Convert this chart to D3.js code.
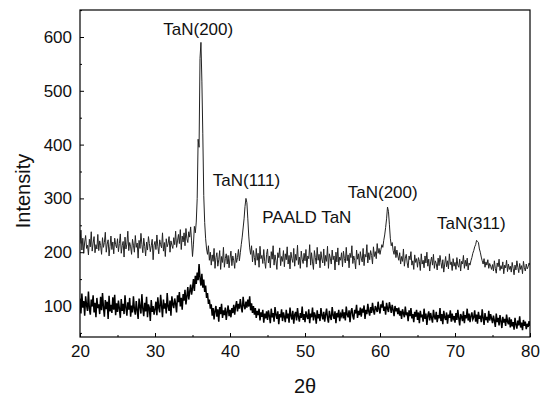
<!DOCTYPE html>
<html>
<head>
<meta charset="utf-8">
<script src="https://cdnjs.cloudflare.com/ajax/libs/d3/7.8.5/d3.min.js"></script>
<style>
	body { margin: 0; background: #fff; }
	text { font-family: Arial, "Liberation Sans", Helvetica, sans-serif; fill: #111; }
</style>
</head>
<body>
<script>

// angle grid, 20 to 80 deg in steps of 0.125
var twoTheta = d3.range(0, 481).map(function(i) { return 20 + i * 0.125; });

// upper trace (PAALD TaN film), one row = 2.5 deg
var filmCounts = [
	216, 241, 204, 226, 198, 219, 231, 207, 213, 195, 224, 210, 238, 202, 217, 229, 199, 214, 206, 233,
	203, 221, 212, 196, 227, 209, 218, 237, 200, 215, 223, 193, 211, 230, 205, 219, 197, 226, 214, 208,
	225, 201, 216, 234, 198, 212, 220, 191, 228, 206, 215, 239, 203, 218, 210, 196, 224, 213, 200, 231,
	209, 217, 189, 222, 207, 235, 214, 199, 226, 211, 193, 219, 204, 229, 216, 201, 212, 224, 186, 213,
	220, 205, 232, 211, 197, 223, 214, 208, 236, 202, 218, 192, 225, 210, 216, 229, 200, 221, 213, 207,
	227, 214, 239, 209, 221, 233, 216, 242, 205, 230, 219, 236, 212, 244, 225, 218, 238, 228, 247, 221,
	192, 215, 248, 236, 256, 300, 410, 395, 560, 590, 518, 420, 305, 255, 225, 206, 196, 212, 185, 200,
	176, 195, 183, 207, 170, 190, 199, 174, 186, 203, 168, 192, 181, 209, 172, 188, 197, 178, 194, 171,
	189, 202, 175, 193, 184, 170, 198, 181, 190, 205, 184, 199, 214, 228, 245, 262, 285, 300, 292, 262,
	230, 208, 196, 212, 182, 203, 190, 176, 207, 185, 198, 172, 211, 188, 194, 179, 205, 183, 170, 196,
	206, 180, 193, 171, 201, 187, 212, 176, 195, 184, 168, 199, 190, 208, 175, 192, 183, 203, 173, 197,
	186, 210, 178, 194, 169, 200, 188, 181, 207, 174, 196, 185, 213, 177, 191, 170, 202, 187, 179, 198,
	184, 205, 172, 193, 188, 214, 176, 199, 182, 168, 203, 190, 178, 209, 185, 196, 171, 201, 187, 180,
	206, 175, 194, 183, 211, 170, 197, 189, 178, 204, 186, 193, 167, 200, 182, 208, 176, 191, 185, 199,
	173, 202, 188, 180, 209, 184, 195, 171, 198, 190, 212, 179, 193, 185, 169, 204, 187, 197, 176, 201,
	189, 182, 207, 175, 196, 191, 214, 180, 199, 186, 203, 194, 178, 210, 192, 201, 188, 216, 198, 207,
	196, 205, 214, 209, 222, 232, 246, 262, 284, 276, 252, 226, 212, 218, 203, 196, 211, 190, 204, 193,
	185, 199, 178, 192, 183, 206, 174, 189, 196, 180, 171, 193, 186, 201, 176, 184, 168, 195, 181, 188,
	172, 190, 183, 166, 197, 178, 185, 171, 193, 180, 200, 174, 187, 165, 182, 191, 176, 196, 170, 184,
	179, 167, 189, 175, 194, 181, 170, 186, 163, 178, 192, 173, 184, 169, 197, 177, 182, 166, 188, 174,
	181, 168, 190, 176, 172, 187, 165, 183, 178, 194, 170, 185, 174, 189, 167, 180, 176, 184, 190, 198,
	203, 210, 214, 222, 220, 218, 206, 200, 191, 184, 178, 188, 172, 182, 176, 186, 170, 179, 174, 168,
	177, 165, 184, 170, 161, 180, 173, 187, 166, 175, 169, 182, 160, 176, 171, 185, 164, 178, 168, 174,
	163, 181, 170, 158, 176, 167, 184, 172, 162, 179, 168, 175, 160, 183, 171, 165, 178, 169, 173, 180,
	176
];

// lower trace
var lowerCounts = [
	114, 86, 123, 97, 109, 82, 118, 101, 91, 127, 95, 84, 112, 99, 120, 88, 106, 79, 115, 96,
	103, 85, 117, 92, 124, 98, 80, 111, 94, 108, 76, 119, 90, 102, 87, 116, 93, 121, 83, 105,
	89, 110, 95, 78, 113, 91, 104, 85, 120, 97, 82, 107, 93, 115, 80, 101, 88, 118, 94, 84,
	109, 92, 76, 114, 99, 86, 122, 95, 81, 106, 90, 117, 79, 103, 96, 72, 111, 89, 100, 84,
	94, 108, 83, 116, 97, 88, 121, 101, 79, 112, 95, 105, 86, 124, 99, 91, 110, 82, 118, 103,
	96, 114, 104, 88, 120, 107, 126, 99, 115, 93, 122, 110, 130, 103, 118, 135, 112, 127, 140, 121,
	133, 150, 128, 156, 141, 162, 148, 178, 152, 138, 160, 134, 149, 126, 138, 115, 124, 104, 112, 95,
	103, 82, 96, 75, 91, 100, 80, 94, 71, 98, 85, 104, 78, 92, 83, 97, 74, 89, 101, 81,
	93, 79, 96, 87, 102, 84, 99, 109, 90, 104, 95, 113, 98, 88, 117, 101, 94, 108, 97, 112,
	99, 118, 92, 105, 87, 100, 84, 96, 78, 91, 83, 95, 73, 88, 80, 93, 69, 86, 77, 90,
	74, 92, 81, 68, 95, 79, 87, 71, 98, 84, 76, 90, 66, 85, 79, 94, 72, 88, 80, 70,
	93, 77, 86, 69, 97, 82, 75, 91, 67, 84, 89, 73, 96, 80, 71, 87, 78, 99, 74, 85,
	70, 90, 81, 76, 94, 68, 86, 79, 97, 73, 88, 82, 67, 92, 77, 85, 72, 96, 83, 75,
	89, 71, 84, 95, 78, 69, 91, 80, 74, 98, 83, 76, 90, 68, 87, 79, 93, 72, 85, 81,
	94, 77, 88, 73, 99, 84, 79, 92, 70, 89, 96, 81, 75, 93, 86, 102, 78, 91, 83, 97,
	80, 95, 88, 101, 76, 93, 85, 104, 90, 82, 98, 87, 106, 92, 84, 100, 95, 89, 108, 94,
	86, 103, 97, 110, 91, 99, 84, 106, 95, 89, 107, 98, 87, 102, 93, 81, 100, 90, 96, 85,
	97, 82, 91, 76, 94, 86, 79, 99, 83, 88, 72, 92, 81, 96, 77, 85, 70, 89, 80, 93,
	74, 88, 68, 91, 79, 84, 71, 95, 76, 86, 65, 82, 90, 73, 87, 78, 69, 93, 80, 75,
	89, 70, 83, 77, 96, 72, 85, 66, 91, 79, 74, 88, 67, 84, 78, 92, 71, 86, 76, 81,
	69, 87, 74, 93, 78, 64, 85, 80, 72, 90, 68, 83, 77, 95, 73, 86, 70, 81, 88, 75,
	79, 92, 71, 84, 67, 89, 76, 82, 70, 94, 78, 65, 87, 74, 80, 69, 91, 73, 85, 77,
	68, 82, 73, 61, 86, 70, 78, 64, 83, 72, 59, 80, 69, 76, 63, 84, 71, 66, 79, 60,
	75, 62, 70, 56, 78, 66, 58, 73, 64, 81, 60, 69, 55, 74, 63, 71, 57, 67, 61, 72,
	63
];

// tick values
var xTicks = [20, 30, 40, 50, 60, 70, 80];
var xMinor = [25, 35, 45, 55, 65, 75];
var yTicks = [100, 200, 300, 400, 500, 600];
var yMinor = [50, 150, 250, 350, 450, 550, 650];

// peak labels: left edge (2theta) and baseline (intensity)
var peakLabels = ["TaN(200)", "TaN(111)", "PAALD TaN", "TaN(200)", "TaN(311)"];
var labelAngles = [31.1, 37.7, 44.3, 55.7, 67.6];
var labelLevels = [604, 323, 254, 301, 243];

var svg = d3.select("body").append("svg")
	.attr("width", 550)
	.attr("height", 397);

var dims = {
	left: 80,
	right: 530,
	top: 10,
	bottom: 337
};

var x = d3.scaleLinear().domain([20, 80]).range([dims.left, dims.right]);
var y = d3.scaleLinear().domain([100, 600]).range([306, 37]);

svg.append("clipPath").attr("id", "plot-clip")
	.append("rect")
	.attr("x", dims.left).attr("y", dims.top)
	.attr("width", dims.right - dims.left)
	.attr("height", dims.bottom - dims.top);

var line = d3.line()
	.x(function(d) { return x(d[0]); })
	.y(function(d) { return y(d[1]); });

var lowerData = twoTheta.map(function(t, i) { return [t, lowerCounts[i]]; });
var filmData = twoTheta.map(function(t, i) { return [t, filmCounts[i]]; });

svg.append("path")
	.datum(lowerData)
	.attr("clip-path", "url(#plot-clip)")
	.attr("d", line)
	.attr("fill", "none")
	.attr("stroke", "#000")
	.attr("stroke-width", 1.5);

svg.append("path")
	.datum(filmData)
	.attr("clip-path", "url(#plot-clip)")
	.attr("d", line)
	.attr("fill", "none")
	.attr("stroke", "#222")
	.attr("stroke-width", 1);

// axes, ticks pointing in
svg.append("g")
	.attr("transform", "translate(0," + dims.bottom + ")")
	.call(d3.axisBottom(x).tickValues(xTicks).tickSize(-4).tickPadding(8).tickFormat(d3.format("d")));

svg.append("g")
	.attr("transform", "translate(0," + dims.bottom + ")")
	.call(d3.axisBottom(x).tickValues(xMinor).tickSize(-2).tickFormat(""));

svg.append("g")
	.attr("transform", "translate(" + dims.left + ",0)")
	.call(d3.axisLeft(y).tickValues(yTicks).tickSize(-4).tickPadding(8).tickFormat(d3.format("d")));

svg.append("g")
	.attr("transform", "translate(" + dims.left + ",0)")
	.call(d3.axisLeft(y).tickValues(yMinor.filter(function(v) { return y(v) > dims.top && y(v) < dims.bottom; })).tickSize(-2).tickFormat(""));

svg.selectAll(".domain").remove();
svg.selectAll(".tick line").attr("stroke", "#000");
svg.selectAll(".tick text").attr("font-size", 17).attr("fill", "#111");

// frame
svg.append("rect")
	.attr("x", dims.left).attr("y", dims.top)
	.attr("width", dims.right - dims.left)
	.attr("height", dims.bottom - dims.top)
	.attr("fill", "none")
	.attr("stroke", "#000")
	.attr("stroke-width", 1.2);

// axis titles
svg.append("text")
	.attr("transform", "translate(30,191) rotate(-90)")
	.attr("text-anchor", "middle")
	.attr("font-size", 20)
	.text("Intensity");

svg.append("text")
	.attr("x", (dims.left + dims.right) / 2)
	.attr("y", 393)
	.attr("text-anchor", "middle")
	.attr("font-size", 20)
	.text("2θ");

// peak annotations
svg.selectAll(".peak-label")
	.data(peakLabels)
	.enter().append("text")
	.attr("class", "peak-label")
	.attr("x", function(d, i) { return x(labelAngles[i]); })
	.attr("y", function(d, i) { return y(labelLevels[i]); })
	.attr("font-size", 17)
	.text(function(d) { return d; });

</script>
</body>
</html>
